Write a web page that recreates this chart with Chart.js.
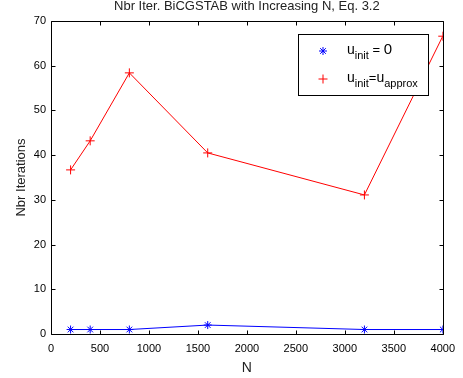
<!DOCTYPE html>
<html><head><meta charset="utf-8">
<script src="https://cdn.jsdelivr.net/npm/chart.js@4/dist/chart.umd.min.js"></script>
<style>html,body{margin:0;padding:0;background:#fff}canvas{display:block}</style>
</head><body>
<canvas id="c" width="463" height="378"></canvas>
<script>
const nValues = [200, 400, 800, 1600, 3200, 4000];
const itersZero = [1, 1, 1, 2, 1, 1];
const itersApprox = [36.7, 43.2, 58.4, 40.5, 31.1, 66.6];
const xTicks = [0, 500, 1000, 1500, 2000, 2500, 3000, 3500, 4000];
const yTicks = [0, 10, 20, 30, 40, 50, 60, 70];
const chartTitle = 'Nbr Iter. BiCGSTAB with Increasing N, Eq. 3.2';
const xTitle = 'N';
const yTitle = 'Nbr Iterations';

const FONT = '"Liberation Sans", Arial, Helvetica, sans-serif';

function toPts(xs, ys) { return xs.map((x, i) => ({x: x, y: ys[i]})); }

const framePlugin = {
  id: 'frame',
  afterDatasetsDraw(chart) {
    const ctx = chart.ctx, a = chart.chartArea;
    const xs = chart.scales.x, ys = chart.scales.y;
    ctx.save();
    ctx.strokeStyle = '#000';
    ctx.lineWidth = 1;
    const L = Math.round(a.left) + 0.5, R = Math.round(a.right) + 0.5;
    const T = Math.round(a.top) + 0.5, B = Math.round(a.bottom) + 0.5;
    ctx.beginPath();
    xTicks.forEach(v => {
      const px = Math.round(xs.getPixelForValue(v)) + 0.5;
      ctx.moveTo(px, B); ctx.lineTo(px, B - 4);
      ctx.moveTo(px, T); ctx.lineTo(px, T + 4);
    });
    yTicks.forEach(v => {
      const py = Math.round(ys.getPixelForValue(v)) + 0.5;
      ctx.moveTo(L, py); ctx.lineTo(L + 4, py);
      ctx.moveTo(R, py); ctx.lineTo(R - 4, py);
    });
    ctx.stroke();
    ctx.beginPath();
    ctx.rect(L, T, R - L, B - T);
    ctx.stroke();
    ctx.restore();
  },
  afterDraw(chart) {
    const ctx = chart.ctx, a = chart.chartArea;
    ctx.save();
    ctx.fillStyle = '#222';
    ctx.textAlign = 'center';
    ctx.textBaseline = 'alphabetic';
    ctx.font = '13px ' + FONT;
    ctx.fillText(chartTitle, (a.left + a.right) / 2, 10);
    ctx.font = '14px ' + FONT;
    ctx.fillText(xTitle, (a.left + a.right) / 2, 372);
    ctx.save();
    ctx.translate(25, (a.top + a.bottom) / 2);
    ctx.rotate(-Math.PI / 2);
    ctx.font = '13px ' + FONT;
    ctx.fillText(yTitle, 0, 0);
    ctx.restore();

    // legend
    const bx = 298.5, by = 34.5, bw = 130, bh = 61;
    ctx.fillStyle = '#fff';
    ctx.fillRect(bx, by, bw, bh);
    ctx.strokeStyle = '#000';
    ctx.lineWidth = 1;
    ctx.strokeRect(bx, by, bw, bh);
    const ds = chart.data.datasets;
    const rows = [51, 79];
    ds.forEach((d, i) => {
      ctx.strokeStyle = d.borderColor;
      ctx.fillStyle = d.borderColor;
      ctx.lineWidth = 1;
      Chart.helpers.drawPoint(ctx, {pointStyle: d.pointStyle, radius: d.pointRadius, borderWidth: 1}, 323, rows[i]);
    });
    ctx.fillStyle = '#000';
    ctx.textAlign = 'left';
    function seg(parts, x, y) {
      parts.forEach(p => {
        ctx.font = p[1] + 'px ' + FONT;
        ctx.fillText(p[0], x, y + p[2]);
        x += ctx.measureText(p[0]).width;
      });
    }
    seg([['u', 14, 0], ['init', 11, 5], [' = ', 13, 0], ['0', 15, 0]], 347, rows[0] + 3);
    seg([['u', 14, 0], ['init', 11, 5], ['=', 13, 0], ['u', 14, 0], ['approx', 11, 5]], 347, rows[1] + 3);
    ctx.restore();
  }
};

new Chart(document.getElementById('c'), {
  type: 'line',
  data: {
    datasets: [
      {
        label: 'u_init = 0',
        data: toPts(nValues, itersZero),
        borderColor: '#0000ff', backgroundColor: '#0000ff',
        borderWidth: 1, pointStyle: 'star', pointRadius: 4, pointBorderWidth: 1,
        fill: false, tension: 0
      },
      {
        label: 'u_init = u_approx',
        data: toPts(nValues, itersApprox),
        borderColor: '#ff0000', backgroundColor: '#ff0000',
        borderWidth: 1, pointStyle: 'cross', pointRadius: 4.5, pointBorderWidth: 1,
        fill: false, tension: 0
      }
    ]
  },
  options: {
    responsive: false,
    animation: false,
    devicePixelRatio: 1,
    layout: {padding: {top: 21, right: 17, left: 0, bottom: 0}},
    plugins: {legend: {display: false}, title: {display: false}, tooltip: {enabled: false}},
    scales: {
      x: {
        type: 'linear', min: 0, max: 4000,
        afterFit(s) { s.height = 44; },
        afterBuildTicks(s) { s.ticks = xTicks.map(v => ({value: v})); },
        grid: {display: false, drawTicks: false},
        border: {display: false},
        ticks: {color: '#000', padding: 8, font: {family: FONT, size: 11}, maxRotation: 0, autoSkip: false,
                callback: v => String(v)}
      },
      y: {
        type: 'linear', min: 0, max: 70,
        afterFit(s) { s.width = 51; },
        afterBuildTicks(s) { s.ticks = yTicks.map(v => ({value: v})); },
        grid: {display: false, drawTicks: false},
        border: {display: false},
        ticks: {color: '#000', padding: 5, font: {family: FONT, size: 11}, autoSkip: false,
                callback: v => String(v)}
      }
    }
  },
  plugins: [framePlugin]
});
</script>
</body></html>
